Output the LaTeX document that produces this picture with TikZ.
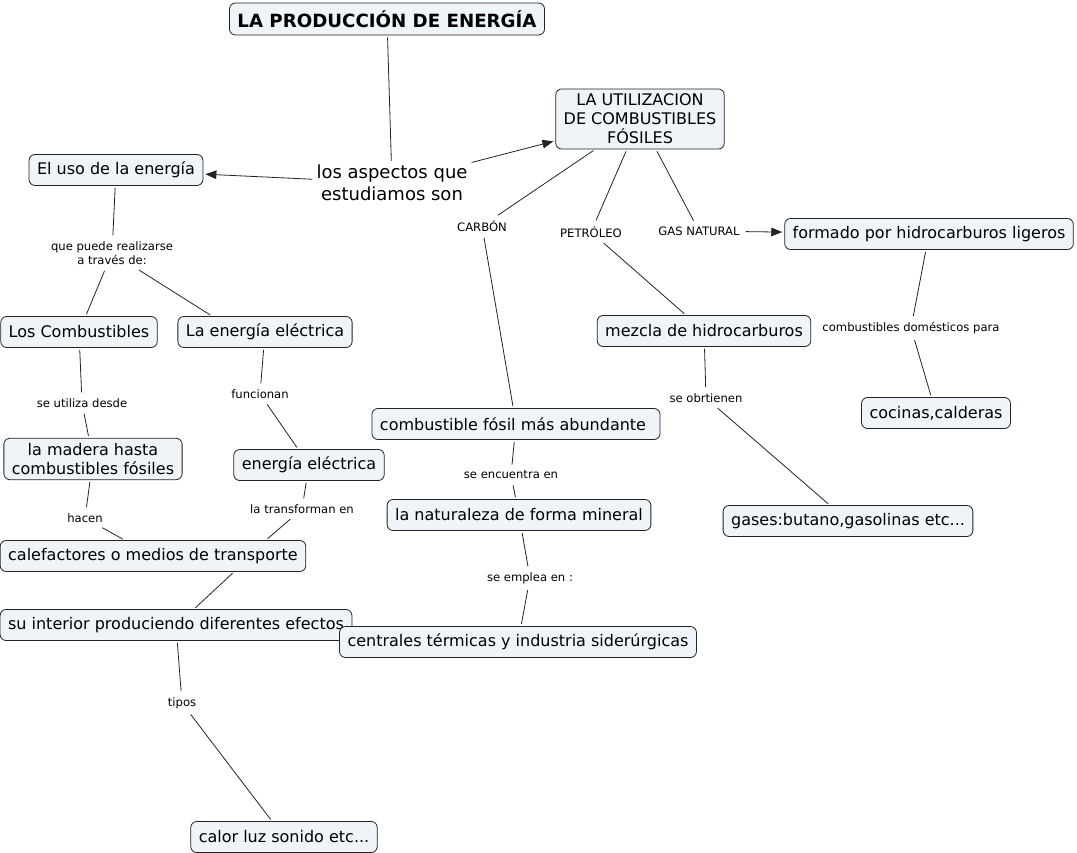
\documentclass[tikz,border=0pt]{standalone}
\usepackage{fontspec}
\setmainfont{DejaVu Sans}
\usetikzlibrary{arrows.meta,backgrounds}
\definecolor{nodefill}{RGB}{238,244,247}
\definecolor{edgecol}{RGB}{35,35,35}
\newcommand{\mainf}{\fontsize{16}{19}\selectfont}
\newcommand{\labf}{\fontsize{11.6}{14.5}\selectfont}
\begin{document}
\begin{tikzpicture}[x=1pt,y=-1pt,
  box/.style={draw=edgecol, fill=nodefill, rounded corners=6pt, inner xsep=8pt, inner ysep=5pt,
    minimum height=31pt, font=\mainf, align=center, line width=0.8pt},
  lab/.style={inner sep=4pt, font=\labf, align=center},
  conn/.style={line width=0.8pt, draw=edgecol, shorten <=2pt, shorten >=2pt},
  arr/.style={conn, -{Triangle[length=11pt,width=8.5pt]}}]
\useasboundingbox (0,0) rectangle (1077,853);
% nodes
\node[box, font=\fontsize{18.2}{21}\selectfont\bfseries, minimum height=32pt] (title) at (387,19) {LA PRODUCCIÓN DE ENERGÍA};
\node[box] (util) at (640,119) {LA UTILIZACION\\DE COMBUSTIBLES\\FÓSILES};
\node[lab, font=\fontsize{18}{22}\selectfont, inner sep=2pt] (aspect) at (392,183) {los aspectos que\\estudiamos son};
\node[box] (uso) at (116,170) {El uso de la energía};
\node[lab] (l1) at (112,253) {que puede realizarse\\a través de:};
\node[box] (comb) at (79,332) {Los Combustibles};
\node[box] (elec1) at (265,332) {La energía eléctrica};
\node[lab] (l2) at (82,403) {se utiliza desde};
\node[lab] (l3) at (260,394) {funcionan};
\node[box] (madera) at (93,459) {la madera hasta\\combustibles fósiles};
\node[box] (elec2) at (309,465) {energía eléctrica};
\node[lab] (l4) at (85,518) {hacen};
\node[lab] (l5) at (302,509) {la transforman en};
\node[box] (calef) at (153,556) {calefactores o medios de transporte};
\node[box] (inter) at (176,625) {su interior produciendo diferentes efectos};
\node[lab] (l6) at (182,703) {tipos};
\node[box] (calor) at (284,837) {calor luz sonido etc...};
\node[lab] (carbon) at (482,226) {CARBÓN};
\node[lab] (petro) at (591,232) {PETRÓLEO};
\node[lab] (gas) at (699,231) {GAS NATURAL};
\node[box] (formado) at (929,234) {formado por hidrocarburos ligeros};
\node[box] (mezcla) at (704,331) {mezcla de hidrocarburos};
\node[lab] (l7) at (911,328) {combustibles domésticos para};
\node[box] (cocinas) at (936,413) {cocinas,calderas};
\node[lab] (l8) at (706,398) {se obrtienen};
\node[box] (gases) at (848,521) {gases:butano,gasolinas etc...};
\node[box] (abund) at (516,424) {combustible fósil más abundante\kern6pt};
\node[lab] (l9) at (511,475) {se encuentra en};
\node[box] (natur) at (519,515) {la naturaleza de forma mineral};
\node[lab] (l10) at (530,578) {se emplea en :};
\node[box] (centr) at (518,642) {centrales térmicas y industria siderúrgicas};
% connectors
\begin{scope}[on background layer]
\draw[conn] (title) -- (aspect);
\draw[arr] (aspect) -- (uso);
\draw[arr] (aspect) -- (util);
\draw[conn] (uso) -- (l1);
\draw[conn] (l1) -- (comb);
\draw[conn] (l1) -- (elec1.north -| 212,0);
\draw[conn] (comb) -- (l2);
\draw[conn] (l2) -- (madera);
\draw[conn] (elec1) -- (l3);
\draw[conn] (l3) -- (elec2);
\draw[conn] (madera) -- (l4);
\draw[conn] (l4) -- (calef);
\draw[conn] (elec2) -- (l5);
\draw[conn] (l5) -- (calef.north -| 266,0);
\draw[conn] (calef.south -| 234,0) -- (inter.north -| 194,0);
\draw[conn] (inter) -- (l6);
\draw[conn] (l6) -- (calor);
\draw[conn] (util) -- (carbon);
\draw[conn] (carbon) -- (abund);
\draw[conn] (util) -- (petro);
\draw[conn] (petro) -- (mezcla);
\draw[conn] (util) -- (gas);
\draw[arr] (gas) -- (formado);
\draw[conn] (formado) -- (l7);
\draw[conn] (l7) -- (cocinas);
\draw[conn] (mezcla) -- (l8);
\draw[conn] (l8) -- (gases);
\draw[conn] (abund) -- (l9);
\draw[conn] (l9) -- (natur);
\draw[conn] (natur) -- (l10);
\draw[conn] (l10) -- (centr);
\end{scope}
\end{tikzpicture}
\end{document}
